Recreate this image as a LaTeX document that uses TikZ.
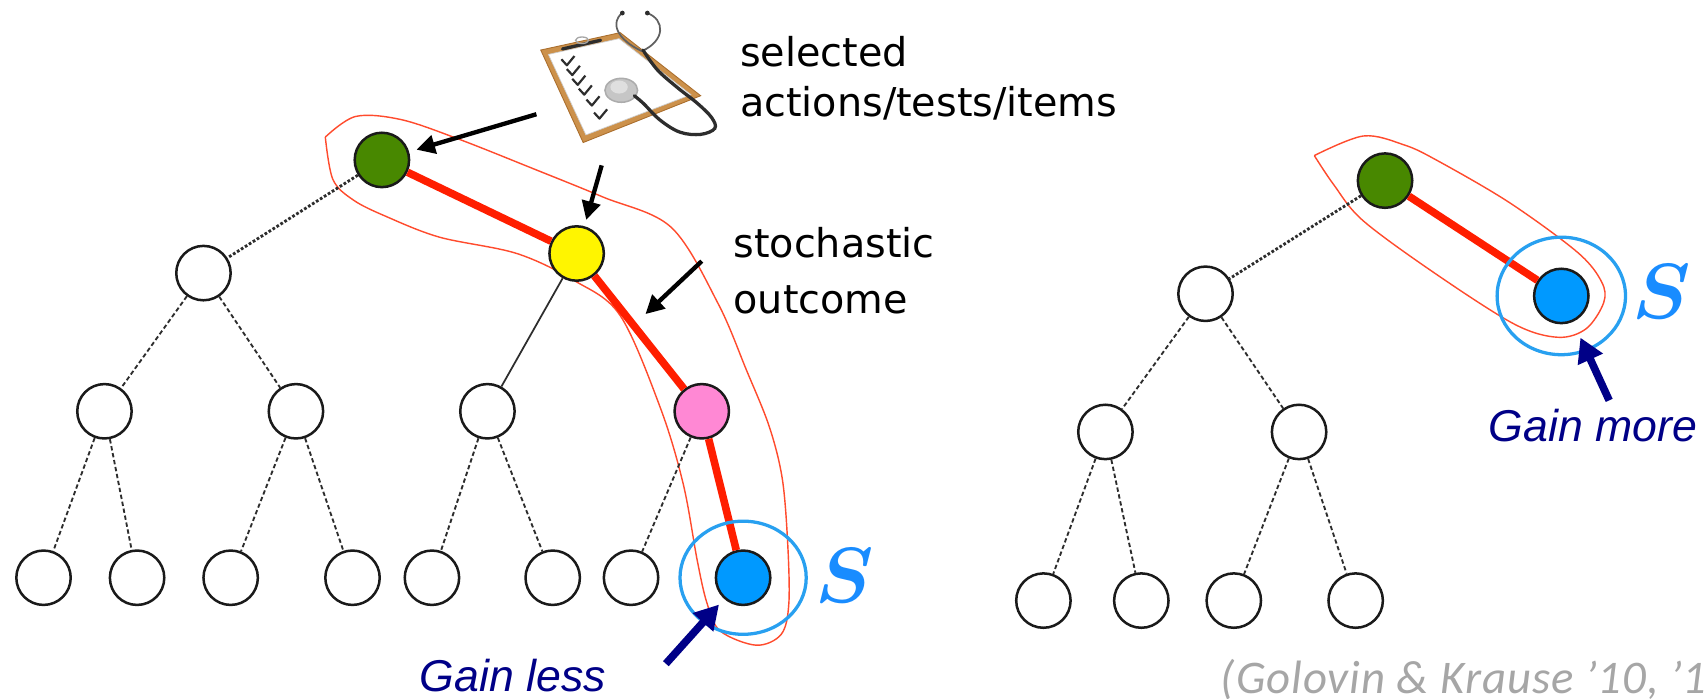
\documentclass[tikz,border=0pt]{standalone}
\usepackage{amsmath}
\usepackage{graphicx}
\usepackage{fontspec}
\usetikzlibrary{arrows.meta,calc}
\newfontfamily\calloutfont{DejaVu Sans}
\newfontfamily\gainfont{Liberation Sans}
\newfontfamily\citefont[LetterSpace=2]{Carlito}
\newcommand{\bigS}{\scalebox{7.2}{$\boldsymbol{S}$}}
\definecolor{nodeline}{RGB}{26,26,26}
\definecolor{edgegray}{RGB}{45,45,45}
\definecolor{pathred}{RGB}{255,30,0}
\definecolor{hullred}{RGB}{255,75,45}
\definecolor{ringblue}{RGB}{40,160,240}
\definecolor{sblue}{RGB}{25,140,255}
\definecolor{bluefill}{RGB}{0,153,255}
\definecolor{rootgreen}{RGB}{72,136,0}
\definecolor{pickyellow}{RGB}{255,245,0}
\definecolor{pickpink}{RGB}{255,136,212}
\definecolor{gainnavy}{RGB}{0,0,135}
\definecolor{citegray}{RGB}{166,166,166}
\definecolor{boardtan}{RGB}{204,145,75}
\definecolor{boardedge}{RGB}{170,110,45}
\definecolor{tubedark}{RGB}{45,45,45}
\begin{document}
\begin{tikzpicture}[x=1pt,y=-1pt,
  treenode/.style={circle, draw=nodeline, line width=2.3pt, minimum size=50pt, inner sep=0pt, fill=white},
  dashedge/.style={draw=edgegray, line width=1.7pt, dash pattern=on 4pt off 2.5pt},
  dotedge/.style={draw=edgegray, line width=2.6pt, dash pattern=on 2.5pt off 1.8pt},
  plainedge/.style={draw=edgegray, line width=1.6pt},
  chosen/.style={draw=pathred, line width=7pt},
  hull/.style={draw=hullred, line width=1.3pt},
  ring/.style={draw=ringblue, line width=3pt},
  pointer/.style={draw=black, line width=4pt, -{Triangle[length=17pt,width=17pt]}},
  gainarrow/.style={draw=gainnavy, line width=7pt, -{Triangle[length=22pt,width=24pt]}},
  callout/.style={inner sep=0pt, font=\calloutfont\fontsize{36.5}{44}\selectfont},
  gain/.style={inner sep=0pt, text depth=0pt, text=gainnavy, font=\gainfont\itshape\fontsize{41}{48}\selectfont},
  slabel/.style={inner sep=0pt, text=sblue},
]
\useasboundingbox (0,0) rectangle (1568,642);
\fill[white] (0,0) rectangle (1568,642);
\clip (0,0) rectangle (1568,642);

% outlines around the selected paths
\draw[hull] plot[smooth, tension=0.55] coordinates {
  (299,126) (327,107) (369,110) (422,128) (490,155) (554,181) (617,209)
  (660,279) (686,340) (707,392) (719,440) (724,500) (725,555) (718,583)
  (695,593) (662,580) (650,555) (641,516) (628,445) (607,375) (570,290)
  (528,258) (475,233) (404,218) (355,199) (325,184) (306,165) (299,126)};
\draw[hull] plot[smooth, tension=0.55] coordinates {
  (1208,143) (1253,125) (1290,133) (1320,147) (1387,186) (1450,232)
  (1472,259) (1474,278) (1458,302) (1432,310) (1392,298) (1320,252)
  (1253,203) (1226,170) (1208,143)};

% left tree
\node[treenode, fill=rootgreen] (g1) at (351,147) {};
\node[treenode] (w1) at (187,251) {};
\node[treenode, fill=pickyellow] (y1) at (530,233) {};
\node[treenode] (w2a) at (96,378) {};
\node[treenode] (w2b) at (272,378) {};
\node[treenode] (w2c) at (448,378) {};
\node[treenode, fill=pickpink] (p1) at (645,378) {};
\node[treenode] (l1) at (40,531) {};
\node[treenode] (l2) at (126,531) {};
\node[treenode] (l3) at (212,531) {};
\node[treenode] (l4) at (324,531) {};
\node[treenode] (l5) at (397,531) {};
\node[treenode] (l6) at (508,531) {};
\node[treenode] (l7) at (580,531) {};
\node[treenode, fill=bluefill] (b1) at (683,531) {};

\draw[dotedge] (g1) -- (w1);
\draw[dashedge] (w1) -- (w2a);
\draw[dashedge] (w1) -- (w2b);
\draw[plainedge] (y1) -- (w2c);
\draw[dashedge] (w2a) -- (l1);
\draw[dashedge] (w2a) -- (l2);
\draw[dashedge] (w2b) -- (l3);
\draw[dashedge] (w2b) -- (l4);
\draw[dashedge] (w2c) -- (l5);
\draw[dashedge] (w2c) -- (l6);
\draw[dashedge] (p1) -- (l7);
\draw[chosen] (g1) -- (y1);
\draw[chosen] (y1) -- (p1);
\draw[chosen] (p1) -- (b1);
\draw[ring] (b1) ellipse [x radius=58pt, y radius=52pt];
\node[slabel] (sL) at (776,529) {\bigS};

% right tree
\node[treenode, fill=rootgreen] (g2) at (1273,166) {};
\node[treenode] (w3) at (1108,270) {};
\node[treenode, fill=bluefill] (b2) at (1435,272) {};
\node[treenode] (w4a) at (1016,397) {};
\node[treenode] (w4b) at (1194,397) {};
\node[treenode] (r1) at (959,552) {};
\node[treenode] (r2) at (1049,552) {};
\node[treenode] (r3) at (1134,552) {};
\node[treenode] (r4) at (1246,552) {};

\draw[dotedge] (g2) -- (w3);
\draw[dashedge] (w3) -- (w4a);
\draw[dashedge] (w3) -- (w4b);
\draw[dashedge] (w4a) -- (r1);
\draw[dashedge] (w4a) -- (r2);
\draw[dashedge] (w4b) -- (r3);
\draw[dashedge] (w4b) -- (r4);
\draw[chosen] (g2) -- (b2);
\draw[ring] (b2) ellipse [x radius=59pt, y radius=54pt];
\node[slabel] (sR) at (1527,268) {\bigS};

% clipboard with stethoscope
\fill[boardtan] (497,46) -- (570,30) -- (644,88) -- (536,131) -- cycle;
\draw[boardedge, line width=0.8pt] (497,46) -- (570,30) -- (644,88) -- (536,131) -- cycle;
\fill[white] (504,50) -- (569,35.5) -- (635,87) -- (538.5,124) -- cycle;
\draw[gray!40, line width=0.6pt] (504,50) -- (569,35.5) -- (635,87) -- (538.5,124) -- cycle;
\draw[tubedark, line width=3pt, line cap=round] (517,45) -- (552,37);
\draw[gray!70, line width=1.2pt] (535,37) ellipse [x radius=6pt, y radius=3pt];
\foreach \cx/\cy in {521/57, 526/66, 531/75, 537/84, 544/94, 551/106}
  \draw[tubedark, line width=2pt, line join=round]
    (\cx-5,\cy-2.5) -- (\cx,\cy+3) -- (\cx+7,\cy-5.5);
\fill[gray!45] (571,83) ellipse [x radius=15pt, y radius=11pt];
\draw[gray!65, line width=1.4pt] (571,83) ellipse [x radius=15pt, y radius=11pt];
\fill[gray!25] (569,80) ellipse [x radius=8pt, y radius=6pt];
\draw[gray!75!black, line width=1.6pt] (572,12) .. controls (561,20) and (566,36) .. (590,47);
\draw[gray!75!black, line width=1.6pt] (595,12) .. controls (611,18) and (612,37) .. (590,47);
\fill[tubedark] (572,12) circle [radius=2.2pt];
\fill[tubedark] (595,12) circle [radius=2.2pt];
\draw[tubedark, line width=3pt, line cap=round] plot[smooth, tension=0.6] coordinates {
  (591,46) (604,64) (622,80) (641,95) (654,108) (657,118) (644,123.5)
  (625,121.5) (606.6,110.3) (591.3,95) (583,88)};

% callouts
\node[callout, anchor=base west] (sel1) at (680,61) {selected};
\node[callout, anchor=base west] (sel2) at (680,107) {actions/tests/items};
\node[callout, anchor=base west] (sto1) at (674,236.5) {stochastic};
\node[callout, anchor=base west] (sto2) at (674,288) {outcome};

\coordinate (clipTail) at (493,105);
\coordinate (pickTail) at (553,152);
\coordinate (outTail) at (645,240);
\coordinate (outMid) at ($(y1)!0.455!(p1)$);
\draw[pointer, shorten >=7pt] (clipTail) -- (g1);
\draw[pointer, shorten >=6pt] (pickTail) -- (y1);
\draw[pointer, shorten >=15pt] (outTail) -- (outMid);

% gain labels
\node[gain, anchor=base east] (less) at (557,636) {Gain less};
\node[gain, anchor=base west] (more) at (1368,406) {Gain more};
\coordinate (lessTail) at (612,610);
\coordinate (moreTail) at (1479,368);
\draw[gainarrow, shorten >=7pt] (lessTail) -- (b1);
\draw[gainarrow, shorten >=16pt] (moreTail) -- (b2);

% reference
\node[inner sep=0pt, text depth=0pt, anchor=base west, text=citegray, font=\citefont\itshape\fontsize{43}{48}\selectfont]
  (cite) at (1122,637) {(Golovin \& Krause ’10, ’11)};
\end{tikzpicture}
\end{document}
